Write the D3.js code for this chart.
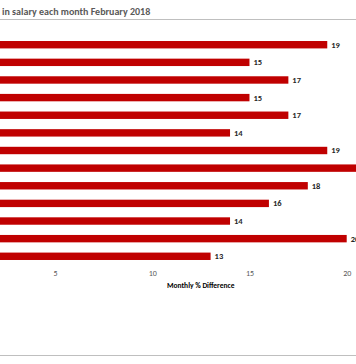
<!DOCTYPE html>
<html><head><meta charset="utf-8">
<script src="https://cdn.jsdelivr.net/npm/d3@7"></script>
<style>body{margin:0;background:#fff}svg{display:block}</style>
</head><body>
<script>
const categories = ["Item 1","Item 2","Item 3","Item 4","Item 5","Item 6","Item 7","Item 8","Item 9","Item 10","Item 11","Item 12","Item 13"];
const values = [19,15,17,15,17,14,19,21,18,16,14,20,13];
const tickValues = [5,10,15,20];
const titleText = "in salary each month February 2018";
const axisTitle = "Monthly % Difference";

const W = 356, H = 364;
const FONT = "Carlito, Calibri, 'Liberation Sans', Arial, sans-serif";
const svg = d3.select("body").append("svg").attr("width", W).attr("height", H)
  .style("font-family", FONT);

const x = d3.scaleLinear().domain([0, 20]).range([-42.2, 346.7]);
const y = d3.scaleBand().domain(categories).range([35.9, 265.1]).paddingInner(0.58).paddingOuter(0.29);

svg.append("text").attr("x", 2).attr("y", 14.5).attr("font-size", 10).attr("font-weight", "bold")
  .attr("fill", "#595959").text(titleText);
svg.append("line").attr("x1", 0).attr("x2", W).attr("y1", 19.5).attr("y2", 19.5)
  .attr("stroke", "#bfbfbf").attr("stroke-width", 1);
svg.append("line").attr("x1", 0).attr("x2", W).attr("y1", 355.5).attr("y2", 355.5)
  .attr("stroke", "#bfbfbf").attr("stroke-width", 1);

svg.selectAll("rect.bar").data(values).join("rect").attr("class", "bar")
  .attr("x", x(0)).attr("y", (d, i) => y(categories[i]))
  .attr("width", d => x(d) - x(0)).attr("height", y.bandwidth())
  .attr("fill", "#c00000");

svg.selectAll("text.val").data(values).join("text").attr("class", "val")
  .attr("x", d => x(d) + 4).attr("y", (d, i) => y(categories[i]) + y.bandwidth() / 2)
  .attr("dy", "0.35em").attr("font-size", 8.5).attr("font-weight", "bold").attr("fill", "#262626")
  .text(d => d);

const xAxis = d3.axisBottom(x).tickValues(tickValues).tickSize(0).tickPadding(0);
const gx = svg.append("g").attr("transform", "translate(0,270)").call(xAxis);
gx.select(".domain").remove();
gx.selectAll("text").attr("font-size", 8).attr("fill", "#595959").attr("font-family", FONT);

svg.append("text").attr("x", 200.7).attr("y", 287.5).attr("text-anchor", "middle")
  .attr("font-size", 7.5).attr("font-weight", "bold").attr("fill", "#000").text(axisTitle);
</script>
</body></html>
